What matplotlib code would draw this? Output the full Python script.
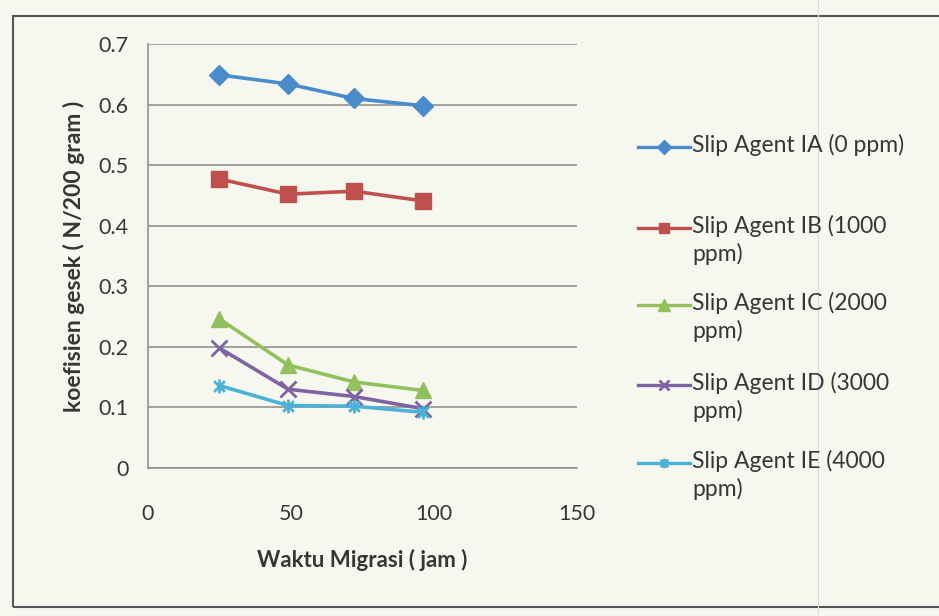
import matplotlib
matplotlib.use("Agg")
import matplotlib.pyplot as plt
from matplotlib.lines import Line2D
from matplotlib.patches import Rectangle
from matplotlib.path import Path

# migration time (hours) and friction coefficient for each slip-agent level
waktu = [25, 49, 72, 96]
ia = [0.649, 0.634, 0.610, 0.598]
ib = [0.477, 0.452, 0.457, 0.441]
ic = [0.246, 0.170, 0.142, 0.128]
id_ = [0.198, 0.130, 0.118, 0.098]
ie = [0.136, 0.103, 0.102, 0.092]

labels = ["Slip Agent IA (0 ppm)",
          "Slip Agent IB (1000\nppm)",
          "Slip Agent IC (2000\nppm)",
          "Slip Agent ID (3000\nppm)",
          "Slip Agent IE (4000\nppm)"]

# Excel-like asterisk marker: an x with a vertical stroke
star = Path([(-1, -1), (1, 1), (-1, 1), (1, -1), (0, -1.3), (0, 1.3)],
            [Path.MOVETO, Path.LINETO, Path.MOVETO, Path.LINETO,
             Path.MOVETO, Path.LINETO])

styles = [
    dict(color="#4a8ccb", marker="D", ms=10),
    dict(color="#c0504d", marker="s", ms=11),
    dict(color="#92c05c", marker="^", ms=12),
    dict(color="#7f62a1", marker="x", ms=11, mew=2),
    dict(color="#4bb1d6", marker=star, ms=10, mew=2),
]
series = [ia, ib, ic, id_, ie]

plt.rcParams["font.family"] = ["Lato", "DejaVu Sans"]
TEXT = "#363636"
GRID = "#8a8a8a"

fig = plt.figure(figsize=(9.39, 6.16), dpi=100, facecolor="#f6f8f0")
ax = fig.add_axes([0.1576, 0.2403, 0.4569, 0.6883])
ax.set_facecolor("none")

for vals, st in zip(series, styles):
    ax.plot(waktu, vals, lw=2.6, **st)

ax.set_xlim(0, 150)
ax.set_ylim(0, 0.7)
ax.set_xticks([0, 50, 100, 150])
ax.set_yticks([0, 0.1, 0.2, 0.3, 0.4, 0.5, 0.6, 0.7])
ax.set_yticklabels(["0", "0.1", "0.2", "0.3", "0.4", "0.5", "0.6", "0.7"])
ax.tick_params(axis="both", length=0, labelsize=15.5, labelcolor=TEXT)
ax.tick_params(axis="y", pad=14)
ax.tick_params(axis="x", pad=26)
ax.grid(axis="y", color=GRID, lw=1.1)
ax.set_axisbelow(True)
for side in ["top", "right"]:
    ax.spines[side].set_visible(False)
for side in ["left", "bottom"]:
    ax.spines[side].set_color(GRID)
    ax.spines[side].set_linewidth(1.1)

ax.set_ylabel("koefisien gesek ( N/200 gram )", fontsize=16.5,
              fontweight="bold", color=TEXT, labelpad=10)
ax.set_xlabel("Waktu Migrasi ( jam )", fontsize=16, fontweight="bold",
              color=TEXT, labelpad=18)

# legend drawn by hand so the marker sits on the first text line
W, H = 939, 616
first_rows = [147, 228, 305, 385, 463]
for y, st, lab in zip(first_rows, styles, labels):
    fy = 1 - y / H
    fig.add_artist(Line2D([638 / W, 690 / W], [fy, fy], color=st["color"], lw=2.4,
                          transform=fig.transFigure))
    lst = dict(st)
    lst["ms"] = st["ms"] * 0.7
    fig.add_artist(Line2D([664 / W], [fy], linestyle="none",
                          transform=fig.transFigure, **lst))
    fig.text(692 / W, fy + 13 / H, lab, fontsize=16.5, color=TEXT, va="top",
             linespacing=1.3, transform=fig.transFigure)

# chart border
fig.add_artist(Rectangle((13 / W, 1 - 607 / H), 1.0, (607 - 16) / H,
                         fill=False, edgecolor="#555555", lw=1.5,
                         transform=fig.transFigure))
fig.add_artist(Line2D([818 / W, 818 / W], [0, 1], color="#dcdae2", lw=0.8,
                      transform=fig.transFigure))

fig.savefig("out.png", dpi=100, facecolor=fig.get_facecolor())
